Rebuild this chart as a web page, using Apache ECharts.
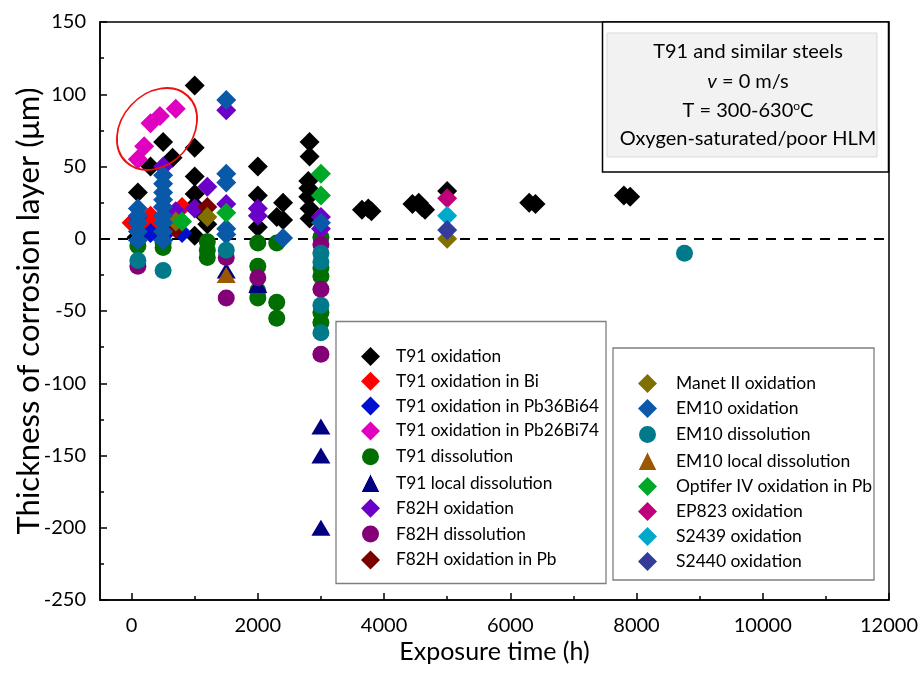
<!DOCTYPE html>
<html><head><meta charset="utf-8">
<script src="https://cdn.jsdelivr.net/npm/echarts@6/dist/echarts.min.js"></script>
<style>html,body{margin:0;padding:0;background:#fff}#c{width:920px;height:686px}</style>
</head><body><div id="c"></div>
<script>
// ---- data: [exposure time (h), thickness (µm)] ----
var t91Ox = [[100,32],[80,1],[300,50],[500,67],[650,56],[1000,106],[1000,63],[1000,43],[1000,31],[1000,23],[1000,2],[1200,10],[1100,18],
  [2000,50],[2000,30],[2000,8],[2300,15],[2400,25],[2400,13],[2820,67],[2820,57],[2800,40],[2800,35],[2800,29],[2820,21],[2820,14],
  [3650,20],[3800,19],[3750,21],[4450,24],[4600,22],[4550,25],[4650,20],[5000,33],[6300,25],[6400,24],[7800,30],[7900,29]];
var t91OxBi = [[0,11],[300,16],[300,9],[800,22]];
var t91OxPb36Bi64 = [[300,4],[800,4],[500,2]];
var t91OxPb26Bi74 = [[100,55],[200,64],[300,80],[450,85],[700,90]];
var t91Diss = [[100,-5],[500,-6],[500,-3],[1200,-2],[1200,-8],[1200,-13],[2000,-3],[2000,-19],[2000,-36],[2000,-41],
  [2300,-3],[2300,-44],[2300,-55],[3000,1],[3000,-20],[3000,-26],[3000,-51],[3000,-58]];
var t91LocalDiss = [[3000,-130],[3000,-150],[3000,-200],[2000,-32],[1500,-22]];
var f82hOx = [[1500,89],[500,50],[1200,36],[500,22],[1000,21],[700,19],[2000,21],[2000,16],[3000,15],[3000,7],[1500,24],[100,15]];
var f82hDiss = [[100,-19],[1500,-13],[1500,-41],[2000,-27],[3000,-4],[3000,-35],[3000,-80]];
var f82hOxPb = [[1200,22],[700,7]];
var manetOx = [[1200,15],[700,12],[5000,0]];
var em10Ox = [[100,21],[100,16],[100,11],[100,5],[100,-1],[500,44],[500,38],[500,32],[500,27],[500,22],[500,16],[500,11],[500,5],[500,-1],
  [1500,96],[1500,45],[1500,39],[1500,7],[1500,3],[2400,0.5],[3000,11]];
var em10Diss = [[100,-15],[500,-22],[1500,-8],[3000,-10],[3000,-16],[3000,-46],[3000,-65],[8760,-10]];
var em10LocalDiss = [[1500,-25]];
var optiferOxPb = [[800,12],[1500,18],[3000,45],[3000,30]];
var ep823Ox = [[5000,28]];
var s2439Ox = [[5000,16]];
var s2440Ox = [[5000,6]];

var xMajor = [0,2000,4000,6000,8000,10000,12000];
var xMinor = [1000,3000,5000,7000,9000,11000];

var FONT = 'Lato';
var seriesDefs = [
  ['T91 oxidation', t91Ox, 'diamond', '#000000'],
  ['T91 oxidation in Bi', t91OxBi, 'diamond', '#ff0000'],
  ['T91 oxidation in Pb36Bi64', t91OxPb36Bi64, 'diamond', '#0010d0'],
  ['T91 oxidation in Pb26Bi74', t91OxPb26Bi74, 'diamond', '#e000c0'],
  ['T91 dissolution', t91Diss, 'circle', '#006e00'],
  ['T91 local dissolution', t91LocalDiss, 'triangle', '#000080'],
  ['F82H oxidation', f82hOx, 'diamond', '#6c00c8'],
  ['F82H dissolution', f82hDiss, 'circle', '#840076'],
  ['F82H oxidation in Pb', f82hOxPb, 'diamond', '#7a0000'],
  ['Manet II oxidation', manetOx, 'diamond', '#7f7000'],
  ['EM10 oxidation', em10Ox, 'diamond', '#0a58a8'],
  ['EM10 dissolution', em10Diss, 'circle', '#007a8a'],
  ['EM10 local dissolution', em10LocalDiss, 'triangle', '#9c5800'],
  ['Optifer IV oxidation in Pb', optiferOxPb, 'diamond', '#00a828'],
  ['EP823 oxidation', ep823Ox, 'diamond', '#c0007a'],
  ['S2439 oxidation', s2439Ox, 'diamond', '#00a8cc'],
  ['S2440 oxidation', s2440Ox, 'diamond', '#333c98']
];
var sizeOf = {diamond: 20, circle: 17, triangle: [19, 16]};
var series = seriesDefs.map(function (d, i) {
  var s = {
    name: d[0], type: 'scatter', data: d[1], symbol: d[2], symbolSize: sizeOf[d[2]],
    itemStyle: {color: d[3], opacity: 1}, emphasis: {disabled: true}, z: 3 + i * 0.01
  };
  if (i === 0) {
    s.markLine = {silent: true, symbol: 'none', label: {show: false},
      lineStyle: {color: '#000', type: [10, 8], width: 2}, data: [{yAxis: 0}], z: 2};
  }
  return s;
});
var DIAMOND_ICON = 'path://M0,-10L10,0L0,10L-10,0Z';
function legendData(defs) {
  return defs.map(function (d) {
    if (d[2] === 'diamond') return {name: d[0], icon: DIAMOND_ICON};
    if (d[2] === 'circle') return {name: d[0], icon: 'circle', itemStyle: {borderColor: '#fff', borderWidth: 2}};
    return {name: d[0], icon: 'triangle', itemStyle: {borderColor: '#fff', borderWidth: 1}};
  });
}

var chart = echarts.init(document.getElementById('c'));
chart.setOption({
  animation: false,
  grid: {left: 100, right: 31, top: 22, bottom: 86, containLabel: false, outerBoundsMode: 'none',
    show: true, borderColor: '#000', borderWidth: 1.5, backgroundColor: 'transparent'},
  xAxis: [{
    type: 'value', min: -500, max: 12000,
    axisLine: {show: true, onZero: false, lineStyle: {color: '#000', width: 1.5}},
    axisTick: {show: true, inside: true, length: 7, customValues: xMajor, lineStyle: {color: '#000', width: 1.5}},
    axisLabel: {customValues: xMajor, color: '#000', fontSize: 20, fontFamily: FONT, margin: 16,
      formatter: function (v) { return String(v); }},
    splitLine: {show: false},
    name: 'Exposure time (h)', nameLocation: 'middle', nameGap: 39, nameMoveOverlap: false,
    nameTextStyle: {fontSize: 25, fontFamily: FONT, color: '#000'}
  }, {
    type: 'value', min: -500, max: 12000, position: 'bottom',
    axisLine: {show: false, onZero: false},
    axisTick: {show: true, inside: true, length: 4, customValues: xMinor, lineStyle: {color: '#000', width: 1.5}},
    axisLabel: {show: false}, splitLine: {show: false}
  }],
  yAxis: {
    type: 'value', min: -250, max: 150, interval: 50,
    axisLine: {show: true, onZero: false, lineStyle: {color: '#000', width: 1.5}},
    axisTick: {show: true, inside: true, length: 7, lineStyle: {color: '#000', width: 1.5}},
    minorTick: {show: true, splitNumber: 2, length: 4, lineStyle: {color: '#000', width: 1.5}},
    axisLabel: {color: '#000', fontSize: 20, fontFamily: FONT, margin: 14},
    splitLine: {show: false},
    name: 'Thickness of corrosion layer (\u03bcm)', nameLocation: 'middle', nameGap: 56, nameMoveOverlap: false,
    nameTextStyle: {fontSize: 31, fontFamily: FONT, color: '#000'}
  },
  legend: [{
    z: 10, orient: 'vertical', left: 360, top: 347, itemWidth: 19, itemHeight: 19, itemGap: 5.8, padding: 0,
    data: legendData(seriesDefs.slice(0, 9)),
    textStyle: {fontSize: 17.3, fontFamily: FONT, color: '#000', padding: [0, 0, 0, 11]}, selectedMode: false
  }, {
    z: 10, orient: 'vertical', left: 637, top: 374, itemWidth: 19, itemHeight: 19, itemGap: 6.0, padding: 0,
    data: legendData(seriesDefs.slice(9)),
    textStyle: {fontSize: 17.5, fontFamily: FONT, color: '#000', padding: [0, 0, 0, 14]}, selectedMode: false
  }],
  graphic: [
    {type: 'rect', shape: {x: 336, y: 321.5, width: 270, height: 262}, style: {fill: '#fff', stroke: '#7f7f7f', lineWidth: 1.3}, z: 5},
    {type: 'rect', shape: {x: 613, y: 348, width: 261, height: 232}, style: {fill: '#fff', stroke: '#7f7f7f', lineWidth: 1.3}, z: 5},
    {type: 'rect', shape: {x: 602.5, y: 22, width: 286, height: 150}, style: {fill: '#fff', stroke: '#000', lineWidth: 1.5}, z: 5},
    {type: 'rect', shape: {x: 607, y: 33, width: 270, height: 124}, style: {fill: '#f2f2f2', stroke: '#d9d9d9', lineWidth: 1}, z: 6},
    {type: 'text', x: 748, y: 52, z: 7, style: {text: 'T91 and similar steels', font: '20px ' + FONT, fill: '#000', align: 'center', verticalAlign: 'middle'}},
    {type: 'text', x: 748, y: 82, z: 7, style: {text: '{i|v} = 0 m/s', font: '20px ' + FONT, fill: '#000', align: 'center', verticalAlign: 'middle',
      rich: {i: {fontStyle: 'italic', fontSize: 20, fontFamily: FONT}}}},
    {type: 'text', x: 748, y: 111, z: 7, style: {text: 'T = 300-630{s|o}C', font: '20px ' + FONT, fill: '#000', align: 'center', verticalAlign: 'middle',
      rich: {s: {fontSize: 12, fontFamily: FONT, verticalAlign: 'top', padding: [0, 0, 9, 0]}}}},
    {type: 'text', x: 748, y: 139, z: 7, style: {text: 'Oxygen-saturated/poor HLM', font: '20px ' + FONT, fill: '#000', align: 'center', verticalAlign: 'middle'}},
    {type: 'group', x: 157, y: 129, rotation: 0.83, z: 10, children: [
      {type: 'circle', shape: {cx: 0, cy: 0, r: 40}, scaleX: 1.13, scaleY: 0.88,
        style: {fill: 'none', stroke: '#ee1111', lineWidth: 1.8, strokeNoScale: true}, z: 10}
    ]}
  ],
  series: series
});
</script></body></html>
